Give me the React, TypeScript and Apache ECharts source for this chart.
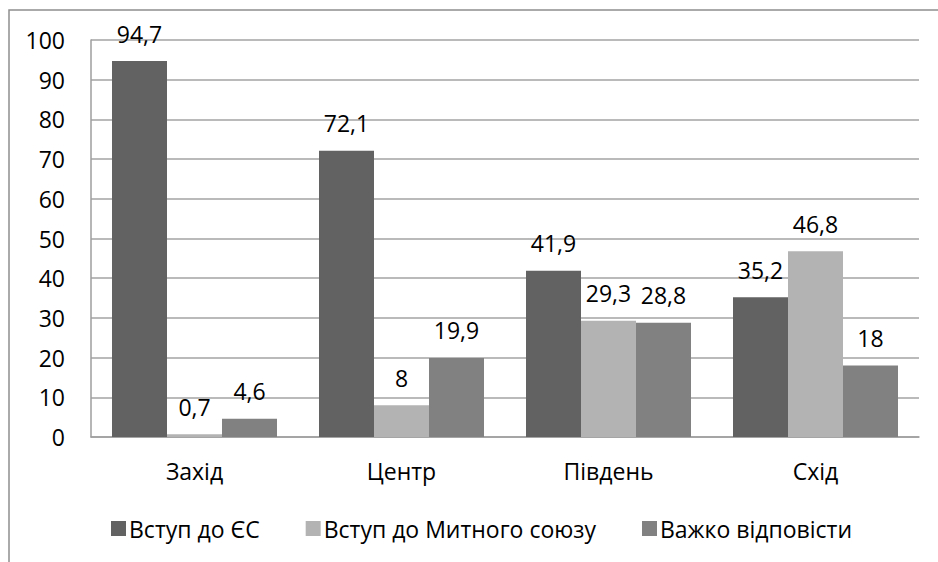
import React, { useEffect, useRef } from "react";
import * as echarts from "echarts";

const categories = ["Захід", "Центр", "Південь", "Схід"];
const seriesNames = ["Вступ до ЄС", "Вступ до Митного союзу", "Важко відповісти"];
const euValues = [94.7, 72.1, 41.9, 35.2];
const customsValues = [0.7, 8, 29.3, 46.8];
const hardValues = [4.6, 19.9, 28.8, 18];
const colors = ["#626262", "#b3b3b3", "#818181"];

const FONT = "Open Sans";
const FS = 23;

export default function App() {
  const ref = useRef<HTMLDivElement>(null);
  useEffect(() => {
    if (!ref.current) return;
    const chart = echarts.init(ref.current, null, { renderer: "svg" });
    const fmt = (p: any) => String(p.value).replace(".", ",");
    const mk = (name: string, data: number[], color: string) => ({
      name,
      type: "bar",
      data,
      barWidth: 55,
      barGap: "0%",
      itemStyle: { color },
      label: {
        show: true,
        position: "top",
        distance: 16,
        formatter: fmt,
        color: "#000",
        fontFamily: FONT,
        fontSize: FS,
      },
    });
    chart.setOption({
      animation: false,
      color: colors,
      graphic: [
        {
          type: "rect",
          shape: { x: 9, y: 10, width: 960, height: 580 },
          style: { fill: "none", stroke: "#8f8f8f", lineWidth: 1.5 },
          silent: true,
          z: -1,
        },
      ],
      grid: { left: 91, right: 19, top: 40, bottom: 125 },
      legend: {
        left: 106,
        top: 512,
        itemWidth: 15,
        itemHeight: 15,
        itemGap: 46,
        icon: "rect",
        textStyle: { fontFamily: FONT, fontSize: FS, color: "#000", padding: [0, 0, 0, -2] },
        data: seriesNames,
      },
      xAxis: {
        type: "category",
        data: categories,
        axisLine: { show: true, lineStyle: { color: "#9e9e9e", width: 1.5 } },
        axisTick: { show: false },
        axisLabel: { margin: 22, fontFamily: FONT, fontSize: FS, color: "#000" },
      },
      yAxis: {
        type: "value",
        min: 0,
        max: 100,
        interval: 10,
        axisLine: { show: true, lineStyle: { color: "#9e9e9e", width: 1.5 } },
        axisTick: { show: false },
        splitLine: { show: true, lineStyle: { color: "#a3a3a3", width: 1.5 } },
        axisLabel: { margin: 26, fontFamily: FONT, fontSize: FS, color: "#000" },
      },
      series: [
        mk(seriesNames[0], euValues, colors[0]),
        mk(seriesNames[1], customsValues, colors[1]),
        mk(seriesNames[2], hardValues, colors[2]),
      ],
    });
    return () => chart.dispose();
  }, []);
  return (
    <div
      ref={ref}
      style={{ position: "fixed", left: 0, top: 0, width: 938, height: 562, background: "#fff" }}
    />
  );
}
